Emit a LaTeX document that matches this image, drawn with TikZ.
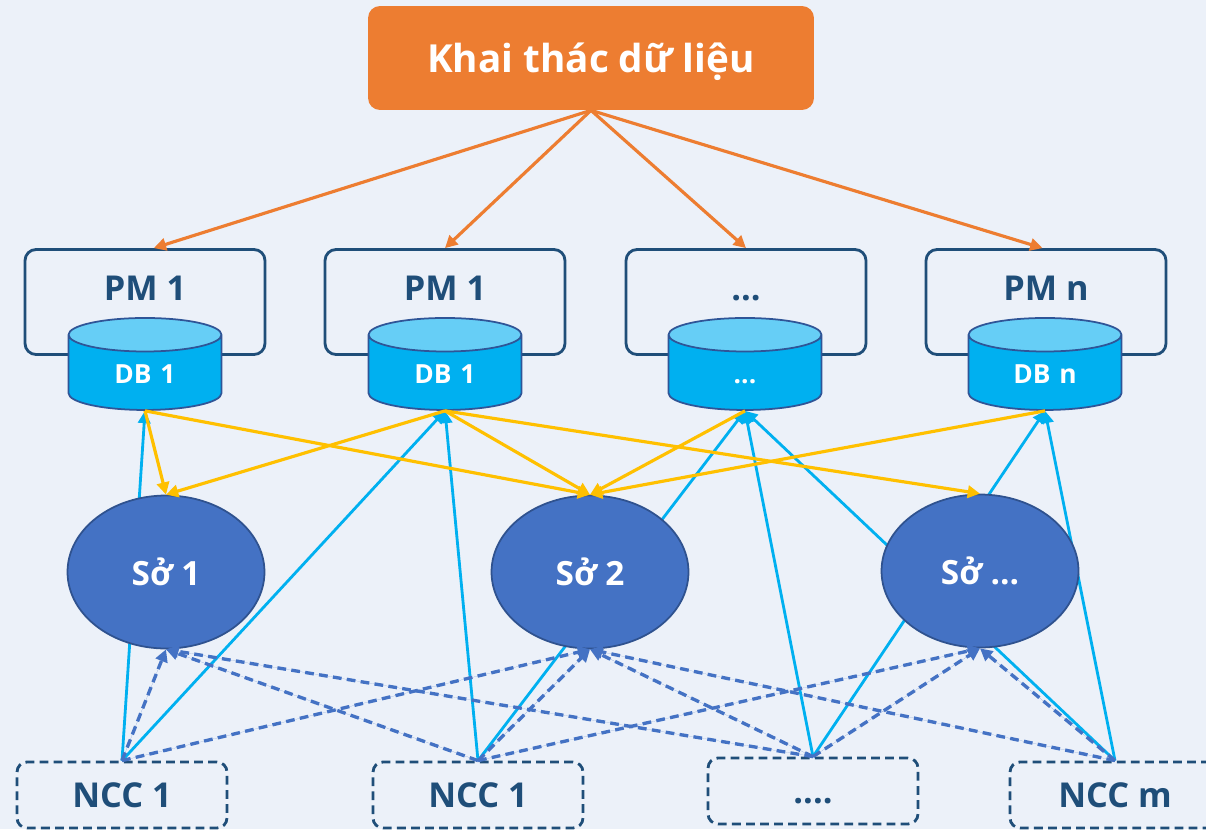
\documentclass[tikz,border=0pt]{standalone}
\usepackage{fontspec}
\setmainfont{Open Sans}
\usetikzlibrary{shapes.geometric,arrows.meta}

\definecolor{bgblue}{RGB}{236,241,249}
\definecolor{khaiorange}{RGB}{237,125,49}
\definecolor{darkblue}{RGB}{31,78,121}
\definecolor{dbfill}{RGB}{0,176,240}
\definecolor{dbtop}{RGB}{102,206,246}
\definecolor{dbborder}{RGB}{47,85,151}
\definecolor{sofill}{RGB}{68,114,196}
\definecolor{soborder}{RGB}{47,82,143}
\definecolor{linkyellow}{RGB}{255,192,0}

\tikzset{
  khaibox/.style={rectangle,rounded corners=0.24cm,fill=khaiorange,text=white,
    text height=16pt,text depth=0pt,
    minimum width=8.92cm,minimum height=2.08cm,font=\fontsize{22}{26}\selectfont\bfseries},
  pmbox/.style={rectangle,rounded corners=0.22cm,draw=darkblue,line width=1.6pt,
    minimum width=4.8cm,minimum height=2.1cm},
  pmlabel/.style={text=darkblue,text height=14pt,text depth=0pt,
    font=\fontsize{19.5}{23}\selectfont\bfseries},
  dbnode/.style={cylinder,shape border rotate=90,aspect=0.3,draw=dbborder,line width=1pt,
    cylinder uses custom fill,cylinder body fill=dbfill,cylinder end fill=dbtop,
    minimum width=3.06cm,minimum height=1.84cm,text=white,text width=2cm,align=center,
    text height=11pt,text depth=3pt,font=\fontsize{15}{18}\selectfont\bfseries},
  sonode/.style={ellipse,fill=sofill,draw=soborder,line width=1pt,text=white,
    minimum width=3.94cm,minimum height=3.06cm,font=\fontsize{19}{23}\selectfont\bfseries},
  nccbox/.style={rectangle,rounded corners=0.2cm,draw=darkblue,line width=1.6pt,
    dash pattern=on 5pt off 3pt,text=darkblue,text height=14pt,text depth=0pt,
    minimum width=4.2cm,minimum height=1.32cm,font=\fontsize{19.5}{23}\selectfont\bfseries},
  toparrow/.style={-{Triangle[length=7pt,width=7pt]},draw=khaiorange,fill=khaiorange,line width=1.8pt},
  dbarrow/.style={-{Triangle[length=7pt,width=7pt]},draw=linkyellow,fill=linkyellow,line width=1.8pt},
  supplyarrow/.style={-{Triangle[length=7pt,width=7pt]},draw=dbfill,fill=dbfill,line width=1.6pt},
  soarrow/.style={-{Triangle[length=7pt,width=7pt]},draw=sofill,fill=sofill,line width=1.9pt,
    dash pattern=on 5pt off 3pt},
}

\begin{document}
\begin{tikzpicture}[x=0.02cm,y=-0.02cm]
\fill[bgblue] (0,0) rectangle (1206,829);
\useasboundingbox (0,0) rectangle (1206,829);

% top box
\node[khaibox] (khai) at (591,58) {Khai thác dữ liệu};

% PM boxes
\node[pmbox] (pm1) at (145,302) {};
\node[pmbox] (pm2) at (445,302) {};
\node[pmbox] (pm3) at (746,302) {};
\node[pmbox] (pm4) at (1046,302) {};
\node[pmlabel] (pm1text) at (145,288) {PM 1};
\node[pmlabel] (pm2text) at (445,288) {PM 1};
\node[pmlabel] (pm3text) at (746,288) {...};
\node[pmlabel] (pm4text) at (1046,288) {PM n};

% databases
\node[dbnode] (db1) at (145,376) {DB 1};
\node[dbnode] (db2) at (445,376) {DB 1};
\node[dbnode] (db3) at (745,376) {...};
\node[dbnode] (db4) at (1045,376) {DB n};

% suppliers
\node[nccbox] (ncc1) at (122,795) {NCC 1};
\node[nccbox] (ncc2) at (478,795) {NCC 1};
\node[nccbox] (ncc3) at (813,791) {....};
\node[nccbox] (ncc4) at (1115,795) {NCC m};

% supplier -> database
\draw[supplyarrow] (ncc1.north) -- (db1.south);
\draw[supplyarrow] (ncc1.north) -- (db2.south);
\draw[supplyarrow] (ncc2.north) -- (db2.south);
\draw[supplyarrow] (ncc2.north) -- (db3.south);
\draw[supplyarrow] (ncc3.north) -- (db3.south);
\draw[supplyarrow] (ncc3.north) -- (db4.south);
\draw[supplyarrow] (ncc4.north) -- (db4.south);
\draw[supplyarrow] (ncc4.north) -- (db3.south);

% departments
\node[sonode] (so1) at (166,572) {Sở 1};
\node[sonode] (so2) at (590,572) {Sở 2};
\node[sonode] (so3) at (980,571) {Sở ...};

% database -> department
\draw[dbarrow] (db1.south) -- (so1.north);
\draw[dbarrow] (db1.south) -- (so2.north);
\draw[dbarrow] (db2.south) -- (so1.north);
\draw[dbarrow] (db2.south) -- (so2.north);
\draw[dbarrow] (db2.south) -- (so3.north);
\draw[dbarrow] (db3.south) -- (so2.north);
\draw[dbarrow] (db4.south) -- (so2.north);

% supplier -> department
\draw[soarrow] (ncc1.north) -- (so1.south);
\draw[soarrow] (ncc1.north) -- (so2.south);
\draw[soarrow] (ncc2.north) -- (so1.south);
\draw[soarrow] (ncc2.north) -- (so2.south);
\draw[soarrow] (ncc2.north) -- (so3.south);
\draw[soarrow] (ncc3.north) -- (so1.south);
\draw[soarrow] (ncc3.north) -- (so2.south);
\draw[soarrow] (ncc3.north) -- (so3.south);
\draw[soarrow] (ncc4.north) -- (so2.south);
\draw[soarrow] (ncc4.north) -- (so3.south);

% top box -> PM
\draw[toparrow] (khai.south) -- ([xshift=5pt]pm1.north);
\draw[toparrow] (khai.south) -- (pm2.north);
\draw[toparrow] (khai.south) -- (pm3.north);
\draw[toparrow] (khai.south) -- ([xshift=-2pt]pm4.north);
\end{tikzpicture}
\end{document}
